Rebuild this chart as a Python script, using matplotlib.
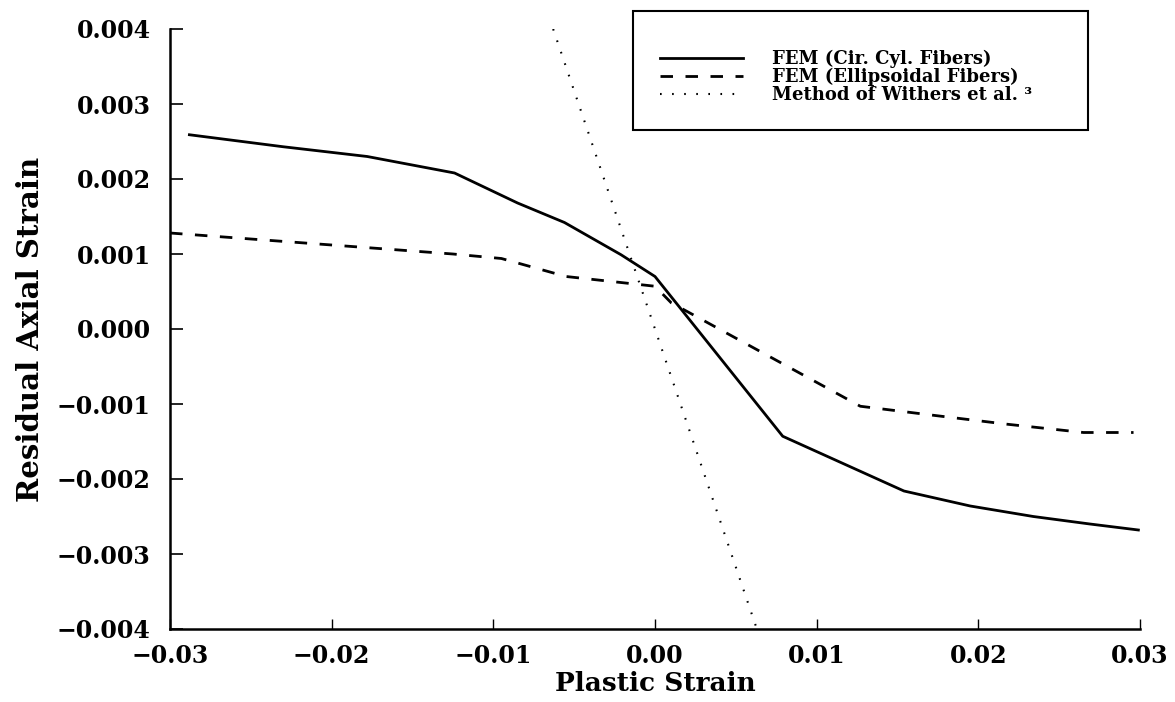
import matplotlib
matplotlib.use("Agg")
import matplotlib.pyplot as plt
from matplotlib.ticker import FuncFormatter
from matplotlib.patches import Rectangle

# Dati
cir_x = [-0.0288, -0.0230, -0.0178, -0.0124, -0.0085, -0.0056, -0.0021, 0.0,
         0.0079, 0.0154, 0.0195, 0.0234, 0.0269, 0.0299]
cir_y = [0.00259, 0.00243, 0.00230, 0.00208, 0.00168, 0.00142, 0.00099, 0.00070,
         -0.00143, -0.00216, -0.00236, -0.00250, -0.00260, -0.00268]

ell_x = [-0.0300, -0.0200, -0.0125, -0.0095, -0.0055, 0.0, 0.0010,
         0.0127, 0.0172, 0.0218, 0.0265, 0.0296]
ell_y = [0.00128, 0.00112, 0.00100, 0.00094, 0.00070, 0.00057, 0.00035,
         -0.00103, -0.00115, -0.00127, -0.00138, -0.00138]

withers_x = [-0.0063, 0.0063]
withers_y = [0.004, -0.004]

x_ticks = [-0.03, -0.02, -0.01, 0.00, 0.01, 0.02, 0.03]
y_ticks = [0.004, 0.003, 0.002, 0.001, 0.000, -0.001, -0.002, -0.003, -0.004]

labels = ["FEM (Cir. Cyl. Fibers)", "FEM (Ellipsoidal Fibers)", "Method of Withers et al. ³"]

plt.rcParams["font.family"] = ["DejaVu Serif"]
plt.rcParams["font.weight"] = "bold"


# Etichette con il segno meno tipografico
def fmt(decimali):
    return FuncFormatter(lambda v, pos: f"{v:.{decimali}f}".replace("-", "\u2212")
                         if abs(v) > 1e-12 else f"{0:.{decimali}f}")


fig = plt.figure(figsize=(11.75, 7.02), dpi=100)
ax = fig.add_axes([170 / 1175, (702 - 629) / 702, 970 / 1175, 600 / 702])

ax.plot(cir_x, cir_y, color="black", lw=2.0, label=labels[0])
ax.plot(ell_x, ell_y, color="black", lw=2.0, linestyle=(0, (4.5, 4.5)), label=labels[1])
ax.plot(withers_x, withers_y, color="black", lw=1.5, linestyle=(0, (0.8, 5.0)), label=labels[2])

ax.set_xlim(-0.03, 0.03)
ax.set_ylim(-0.004, 0.004)
ax.set_xticks(x_ticks)
ax.set_yticks(y_ticks)
ax.xaxis.set_major_formatter(fmt(2))
ax.yaxis.set_major_formatter(fmt(3))

ax.spines["top"].set_visible(False)
ax.spines["right"].set_visible(False)
ax.spines["left"].set_linewidth(1.8)
ax.spines["bottom"].set_linewidth(1.8)
ax.tick_params(axis="y", direction="in", length=9, width=1.2, pad=14, labelsize=17)
ax.tick_params(axis="x", direction="in", length=7, width=1.0, pad=11, labelsize=17)

ax.set_xlabel("Plastic Strain", fontsize=19, fontweight="bold")
ax.xaxis.set_label_coords(0.5, -0.07)
ax.set_ylabel("Residual Axial Strain", fontsize=21, fontweight="bold")
ax.yaxis.set_label_coords(-0.129, 0.5)

# Riquadro della legenda (posizionato a mano come nell'originale)
box = Rectangle((0.477, 0.832), 0.469, 0.198, transform=ax.transAxes,
                fill=False, edgecolor="black", lw=1.5, clip_on=False)
ax.add_patch(box)
ax.legend(loc="center left", bbox_to_anchor=(0.488, 0.92), frameon=False,
          handlelength=4.6, handletextpad=1.6, labelspacing=0.0,
          prop={"weight": "bold", "size": 13})

fig.savefig("out.png", dpi=100)
